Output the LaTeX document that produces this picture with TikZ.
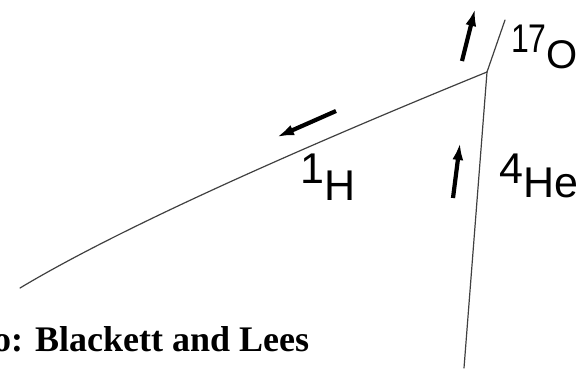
\documentclass[tikz,border=0pt]{standalone}
\usepackage{fontspec}
\setmainfont{Liberation Serif}
\newfontfamily\trackfont{Liberation Sans}
\usetikzlibrary{arrows.meta}

\begin{document}
\begin{tikzpicture}[x=1pt, y=-1pt,
    track/.style={line width=1.2pt, black!75, line cap=round},
    motion/.style={-{Latex[length=17pt, width=11pt]}, line width=4.2pt},
    nuclide/.style={font=\trackfont\fontsize{43}{43}\selectfont, inner sep=0pt, anchor=base west},
    credit/.style={font=\bfseries\fontsize{36}{36}\selectfont, inner sep=0pt, anchor=base west}
  ]
    \useasboundingbox (0,0) rectangle (578,368);
    % Collision point and track ends
    \coordinate (vtx) at (487,72);
    \coordinate (pEnd) at (20,288);
    \coordinate (aEnd) at (464,368);
    \coordinate (oEnd) at (505,20);
    % Tracks
    \draw[track] (pEnd) .. controls (130,222) and (330,136) .. (vtx);
    \draw[track] (aEnd) -- (vtx);
    \draw[track] (vtx) -- (oEnd);
    % Direction of motion
    \coordinate (oTail) at (462,61);
    \coordinate (oTip) at (475,9);
    \coordinate (hTail) at (336,111);
    \coordinate (hTip) at (277,137);
    \coordinate (aTail) at (453,198);
    \coordinate (aTip) at (460,143);
    \draw[motion] (oTail) -- (oTip);
    \draw[motion] (hTail) -- (hTip);
    \draw[motion] (aTail) -- (aTip);
    % Labels
    \node[nuclide, font=\trackfont\fontsize{40}{40}\selectfont] (oLbl) at (511,68)
      {\raisebox{16pt}{\scalebox{0.8}[1]{17}}O};
    \node[nuclide] (hLbl) at (300,200) {\raisebox{17pt}{1}H};
    \node[nuclide] (heLbl) at (499,197) {\raisebox{14pt}{4}He};
    \node[credit] (photo) at (-7,351) {o: Blackett and Lees};
\end{tikzpicture}
\end{document}
